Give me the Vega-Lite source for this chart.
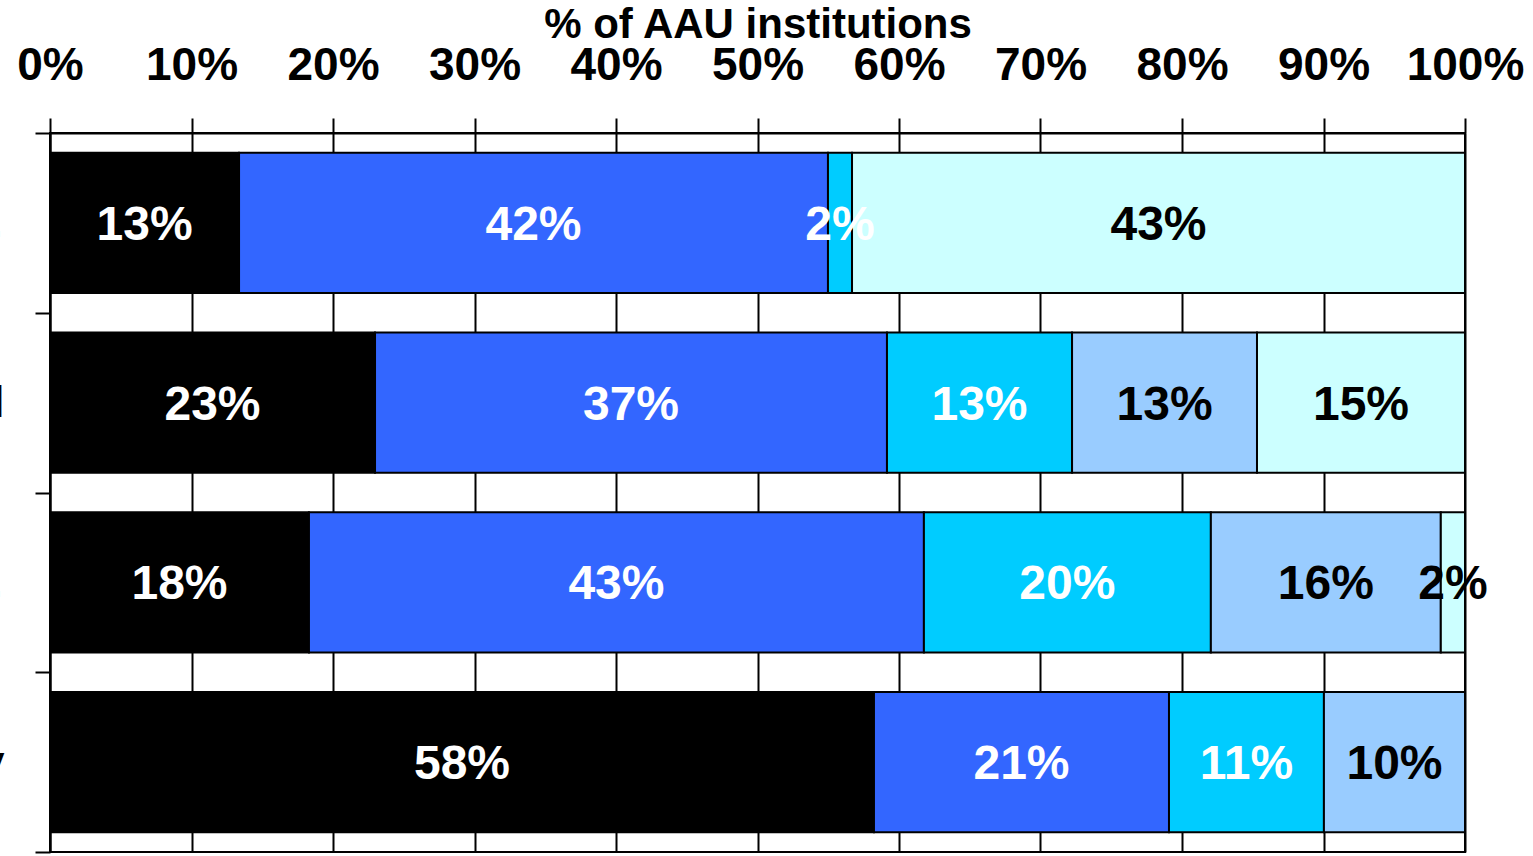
{
  "$schema": "https://vega.github.io/schema/vega-lite/v6.json",
  "width": 1415,
  "height": 719,
  "autosize": {"type": "none"},
  "padding": {"left": 50, "top": 133, "right": 68, "bottom": 4},
  "background": "white",
  "config": {
    "view": {"stroke": "black", "strokeWidth": 2},
    "font": "Liberation Sans"
  },
  "data": {
    "values": [
      {"row": "Students", "k": 1, "cat": "Cat 1", "pct": 13.36, "label": "13%"},
      {"row": "Students", "k": 2, "cat": "Cat 2", "pct": 41.62, "label": "42%"},
      {"row": "Students", "k": 3, "cat": "Cat 3", "pct": 1.7, "label": "2%"},
      {"row": "Students", "k": 5, "cat": "Cat 5", "pct": 43.32, "label": "43%"},
      {"row": "Central", "k": 1, "cat": "Cat 1", "pct": 22.97, "label": "23%"},
      {"row": "Central", "k": 2, "cat": "Cat 2", "pct": 36.18, "label": "37%"},
      {"row": "Central", "k": 3, "cat": "Cat 3", "pct": 13.08, "label": "13%"},
      {"row": "Central", "k": 4, "cat": "Cat 4", "pct": 13.07, "label": "13%"},
      {"row": "Central", "k": 5, "cat": "Cat 5", "pct": 14.7, "label": "15%"},
      {"row": "Departments", "k": 1, "cat": "Cat 1", "pct": 18.3, "label": "18%"},
      {"row": "Departments", "k": 2, "cat": "Cat 2", "pct": 43.46, "label": "43%"},
      {"row": "Departments", "k": 3, "cat": "Cat 3", "pct": 20.28, "label": "20%"},
      {"row": "Departments", "k": 4, "cat": "Cat 4", "pct": 16.25, "label": "16%"},
      {"row": "Departments", "k": 5, "cat": "Cat 5", "pct": 1.71, "label": "2%"},
      {"row": "Faculty", "k": 1, "cat": "Cat 1", "pct": 58.23, "label": "58%"},
      {"row": "Faculty", "k": 2, "cat": "Cat 2", "pct": 20.85, "label": "21%"},
      {"row": "Faculty", "k": 3, "cat": "Cat 3", "pct": 10.95, "label": "11%"},
      {"row": "Faculty", "k": 4, "cat": "Cat 4", "pct": 9.97, "label": "10%"}
    ]
  },
  "transform": [
    {"stack": "pct", "groupby": ["row"], "sort": [{"field": "k", "order": "ascending"}], "as": ["x0", "x1"]},
    {"calculate": "(datum.x0 + datum.x1) / 2", "as": "mid"}
  ],
  "encoding": {
    "y": {
      "field": "row",
      "type": "nominal",
      "sort": ["Students", "Central", "Departments", "Faculty"],
      "scale": {"paddingInner": 0, "paddingOuter": 0},
      "axis": {
        "title": null,
        "orient": "left",
        "domain": true,
        "domainColor": "black",
        "domainWidth": 2,
        "ticks": true,
        "tickBand": "extent",
        "tickColor": "black",
        "tickWidth": 2,
        "tickSize": 15,
        "labelFont": "Liberation Sans",
        "labelFontWeight": "bold",
        "labelFontSize": 45,
        "labelColor": "black",
        "labelPadding": 31,
        "grid": false
      }
    }
  },
  "layer": [
    {
      "mark": {"type": "bar", "stroke": "black", "strokeWidth": 2, "height": {"band": 0.78}},
      "encoding": {
        "x": {
          "field": "x0",
          "type": "quantitative",
          "scale": {"domain": [0, 100], "nice": false},
          "axis": {
            "orient": "top",
            "values": [0, 10, 20, 30, 40, 50, 60, 70, 80, 90, 100],
            "labelExpr": "datum.value + '%'",
            "labelFont": "Liberation Sans",
            "labelFontWeight": "bold",
            "labelFontSize": 46,
            "labelColor": "black",
            "labelBaseline": "alphabetic",
            "labelPadding": 39,
            "labelFlush": false,
            "labelOverlap": false,
            "domain": true,
            "domainColor": "black",
            "domainWidth": 2,
            "ticks": true,
            "tickColor": "black",
            "tickWidth": 2,
            "tickSize": 15,
            "grid": true,
            "gridColor": "black",
            "gridWidth": 2,
            "gridOpacity": 1,
            "title": "% of AAU institutions",
            "titleFont": "Liberation Sans",
            "titleFontWeight": "bold",
            "titleFontSize": 42,
            "titleColor": "black",
            "titleBaseline": "alphabetic",
            "titleY": -96
          }
        },
        "x2": {"field": "x1"},
        "color": {
          "field": "cat",
          "type": "nominal",
          "scale": {
            "domain": ["Cat 1", "Cat 2", "Cat 3", "Cat 4", "Cat 5"],
            "range": ["#000000", "#3366FF", "#00CCFF", "#99CCFF", "#CCFFFF"]
          },
          "legend": null
        }
      }
    },
    {
      "mark": {"type": "text", "font": "Liberation Sans", "fontWeight": "bold", "fontSize": 48, "baseline": "middle", "align": "center", "dy": 3},
      "encoding": {
        "x": {"field": "mid", "type": "quantitative"},
        "text": {"field": "label", "type": "nominal"},
        "color": {
          "condition": {"test": "datum.k >= 4", "value": "black"},
          "value": "white"
        }
      }
    }
  ]
}
